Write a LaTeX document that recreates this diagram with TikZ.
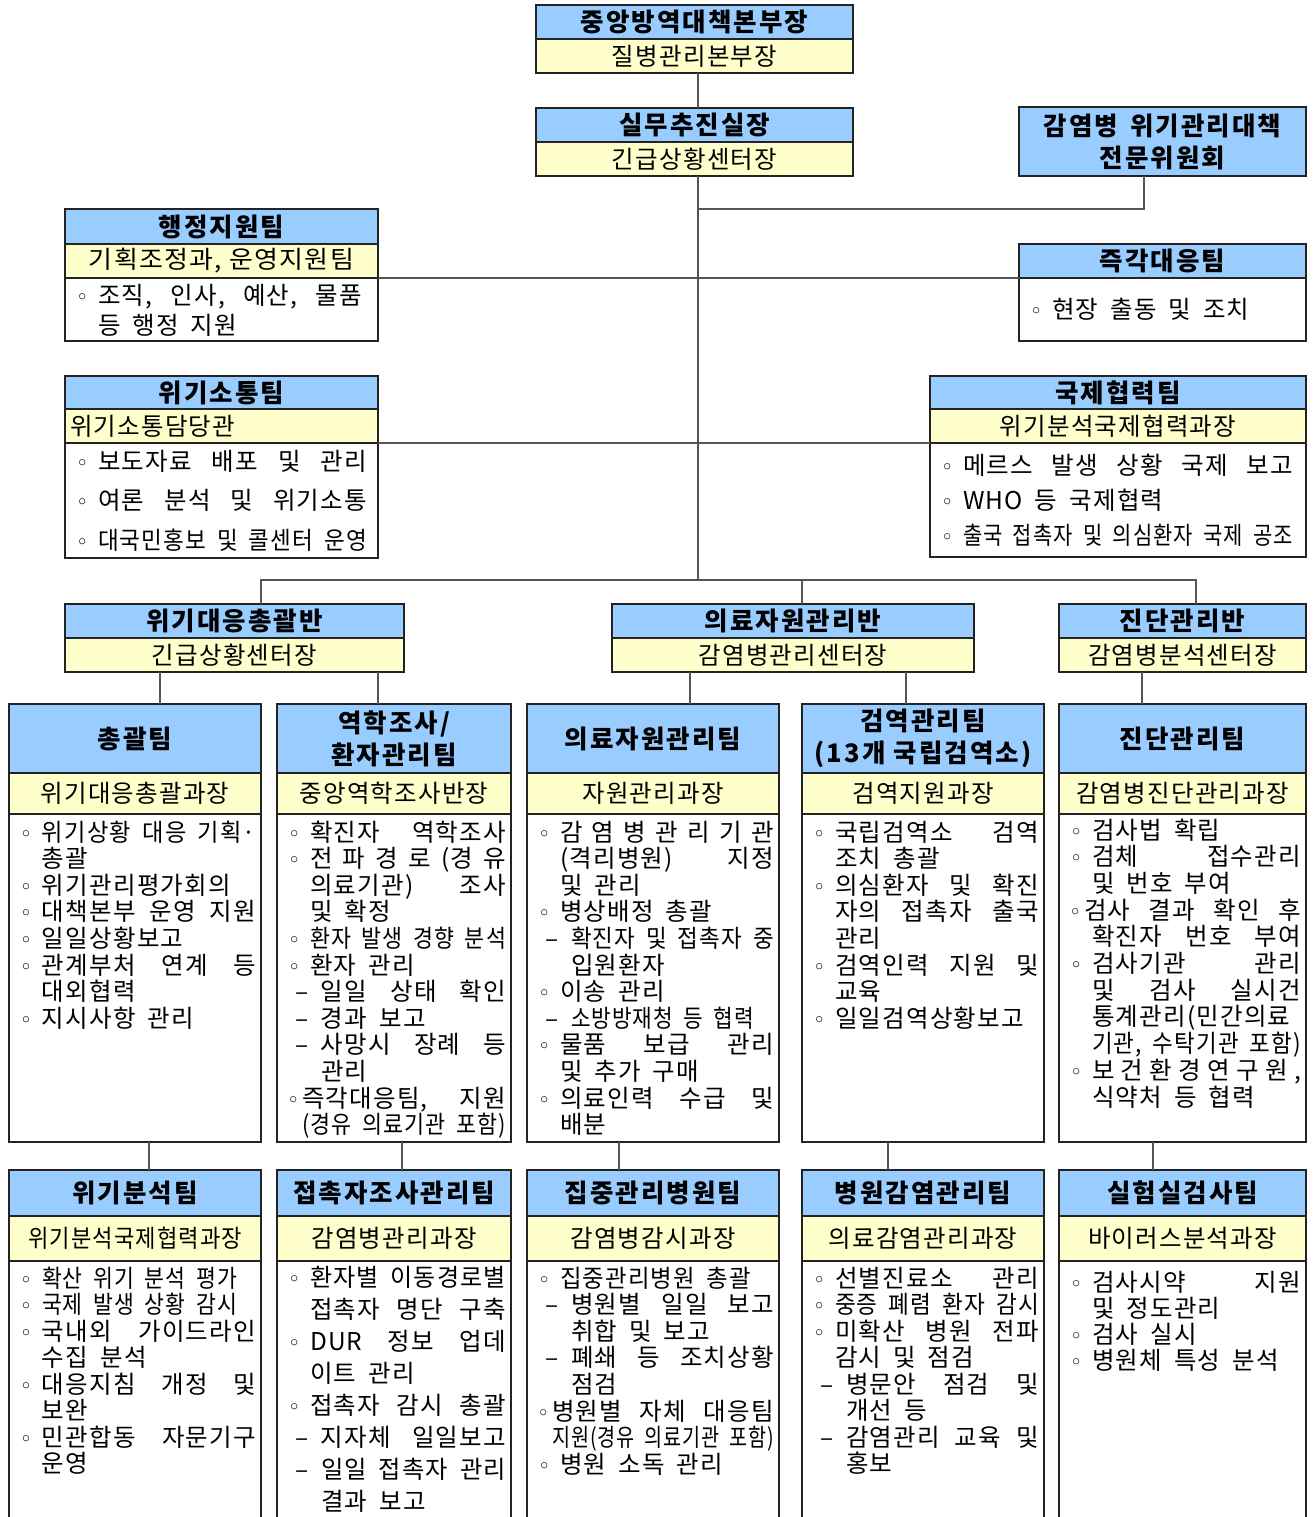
\documentclass[tikz,border=0pt]{standalone}
\usepackage{fontspec}
\usepackage{graphicx}
\usetikzlibrary{positioning}
\setmainfont{Noto Sans CJK KR}[LetterSpace=5]
\newfontfamily\hdfam{Noto Sans CJK KR}[LetterSpace=8]
\newfontfamily\bulf{DejaVu Sans}
\definecolor{hdblue}{RGB}{153,204,255}
\definecolor{sbyel}{RGB}{255,255,204}
\definecolor{edge}{RGB}{35,35,35}
\definecolor{wire}{RGB}{85,85,85}
\newlength\tw
\newcommand\hdf{\hdfam\fontsize{25.5}{32}\selectfont\bfseries}
\newcommand\sbf{\fontsize{24.5}{28}\selectfont}
% justified line, squeezed when too long
\newcommand\fitj[2]{\sbox0{#2}\ifdim\wd0>#1\relax\resizebox{#1}{\height}{#2}\else\makebox[#1][s]{#2}\fi}
\newcommand\bul{\makebox[24pt][l]{\hspace{2pt}{\bulf\fontsize{21}{21}\selectfont ◦}}}
\newcommand\tbul{\makebox[16pt][l]{\hspace{1pt}{\bulf\fontsize{21}{21}\selectfont ◦}}}
\newcommand\dsh{\makebox[35pt][l]{\hspace{9pt}–}}
\newcommand\ibj[1]{\noindent\bul\fitj{\dimexpr\tw-24pt\relax}{#1}\par}
\newcommand\ibn[1]{\noindent\bul#1\par}
\newcommand\ibw[2]{\noindent\bul\resizebox{#1pt}{\height}{#2}\par}
\newcommand\icj[1]{\noindent\hspace*{24pt}\fitj{\dimexpr\tw-24pt\relax}{#1}\par}
\newcommand\icn[1]{\noindent\hspace*{24pt}#1\par}
\newcommand\idj[1]{\noindent\dsh\fitj{\dimexpr\tw-35pt\relax}{#1}\par}
\newcommand\idn[1]{\noindent\dsh#1\par}
\newcommand\idw[2]{\noindent\dsh\resizebox{#1pt}{\height}{#2}\par}
\newcommand\iec[1]{\noindent\hspace*{35pt}#1\par}
\newcommand\itj[1]{\noindent\tbul\fitj{\dimexpr\tw-16pt\relax}{#1}\par}
\newcommand\itc[1]{\noindent\hspace*{16pt}\fitj{\dimexpr\tw-16pt\relax}{#1}\par}
% #1 width, #2 height, #3 line skip, #4 first baseline, #5 right margin, #6 lines
\newcommand\bodytxt[6]{\parbox[c][#2pt][t]{#1pt}{\fontsize{24.5}{#3}\selectfont
  \setlength\tw{\dimexpr#1pt-9pt-#5pt\relax}\leftskip=9pt\rightskip=0pt plus 1fil
  \parskip=0pt\parindent=0pt\spaceskip=12pt plus 40pt minus 7pt\xspaceskip=\spaceskip
  \vspace*{\dimexpr#4pt-#3pt\relax}\mbox{}\par #6}}

\begin{document}
\begin{tikzpicture}
[x=1pt,y=-1pt,
 every node/.style={inner sep=0pt,outer sep=0pt},
 hd/.style={draw=edge,line width=1.2pt,fill=hdblue,font=\hdf,align=center},
 sb/.style={draw=edge,line width=1.2pt,fill=sbyel,font=\sbf,align=center},
 bd/.style={draw=edge,line width=1.2pt,fill=white},
 conn/.style={draw=wire,line width=1.3pt}]
\path[use as bounding box,fill=white] (0,0) rectangle (1313,1517);

% headquarters
\node[hd,minimum width=317,minimum height=34] (hq) at (694.5,22) {중앙방역대책본부장};
\node[sb,minimum width=317,minimum height=34,below=0pt of hq] (hqs) {질병관리본부장};
\node[hd,minimum width=317,minimum height=34] (cmd) at (694.5,125) {실무추진실장};
\node[sb,minimum width=317,minimum height=34,below=0pt of cmd] (cmds) {긴급상황센터장};
\node[hd,minimum width=287,minimum height=69] (cmt) at (1162.5,141.5) {감염병\hspace{12pt}위기관리대책\\전문위원회};

% side teams
\node[hd,minimum width=313,minimum height=35] (adm) at (221.5,226.5) {행정지원팀};
\node[sb,minimum width=313,minimum height=34,below=0pt of adm] (adms) {\resizebox{265pt}{\height}{기획조정과, 운영지원팀}};
\node[bd,below=0pt of adms] (admb) {\bodytxt{313}{63}{30}{26}{16}{%
  \ibj{조직, 인사, 예산, 물품}
  \icn{등 행정 지원}}};
\node[hd,minimum width=287,minimum height=34] (rapid) at (1162.5,261) {즉각대응팀};
\node[bd,below=0pt of rapid] (rapidb) {\bodytxt{287}{63}{30}{40}{10}{%
  \ibn{현장 출동 및 조치}}};
\node[hd,minimum width=313,minimum height=33] (com) at (221.5,392.5) {위기소통팀};
\node[sb,minimum width=313,minimum height=34,below=0pt of com] (coms) {\makebox[303pt][l]{위기소통담당관}};
\node[bd,below=0pt of coms] (comb) {\bodytxt{313}{115}{39.5}{27}{11}{%
  \ibj{보도자료 배포 및 관리}
  \ibj{여론 분석 및 위기소통}
  \ibj{대국민홍보 및 콜센터 운영}}};
\node[hd,minimum width=376,minimum height=33] (intl) at (1118,392.5) {국제협력팀};
\node[sb,minimum width=376,minimum height=34,below=0pt of intl] (intls) {위기분석국제협력과장};
\node[bd,below=0pt of intls] (intlb) {\bodytxt{376}{114}{35}{31}{13}{%
  \ibj{메르스 발생 상황 국제 보고}
  \ibn{WHO 등 국제협력}
  \ibj{출국 접촉자 및 의심환자 국제 공조}}};

% divisions
\node[hd,minimum width=339,minimum height=34] (g1) at (234.5,621) {위기대응총괄반};
\node[sb,minimum width=339,minimum height=34,below=0pt of g1] (g1s) {긴급상황센터장};
\node[hd,minimum width=362,minimum height=34] (g2) at (793,621) {의료자원관리반};
\node[sb,minimum width=362,minimum height=34,below=0pt of g2] (g2s) {감염병관리센터장};
\node[hd,minimum width=247,minimum height=34] (g3) at (1182.5,621) {진단관리반};
\node[sb,minimum width=247,minimum height=34,below=0pt of g3] (g3s) {감염병분석센터장};

% teams, upper row
\node[hd,minimum width=252,minimum height=69] (t1) at (135,738.5) {총괄팀};
\node[sb,minimum width=252,minimum height=41,below=0pt of t1] (t1s) {위기대응총괄과장};
\node[bd,below=0pt of t1s] (t1b) {\bodytxt{252}{328}{26.6}{27}{5}{%
  \ibj{위기상황 대응 기획·}
  \icn{총괄}
  \ibj{위기관리평가회의}
  \ibj{대책본부 운영 지원}
  \ibn{일일상황보고}
  \ibj{관계부처 연계 등}
  \icn{대외협력}
  \ibn{지시사항 관리}}};
\node[hd,minimum width=234,minimum height=69] (t2) at (394,738.5) {역학조사/\\환자관리팀};
\node[sb,minimum width=234,minimum height=41,below=0pt of t2] (t2s) {중앙역학조사반장};
\node[bd,below=0pt of t2s] (t2b) {\bodytxt{234}{328}{26.6}{27}{5}{%
  \ibj{확진자 역학조사}
  \ibj{전\hfill 파\hfill 경\hfill 로\hfill (경\hfill 유}
  \icj{의료기관) 조사}
  \icn{및 확정}
  \ibj{환자 발생 경향 분석}
  \ibn{환자 관리}
  \idj{일일 상태 확인}
  \idn{경과 보고}
  \idj{사망시 장례 등}
  \iec{관리}
  \itj{즉각대응팀, 지원}
  \itc{(경유 의료기관 포함)}}};
\node[hd,minimum width=252,minimum height=69] (t3) at (653,738.5) {의료자원관리팀};
\node[sb,minimum width=252,minimum height=41,below=0pt of t3] (t3s) {자원관리과장};
\node[bd,below=0pt of t3s] (t3b) {\bodytxt{252}{328}{26.6}{27}{5}{%
  \ibj{감\hfill 염\hfill 병\hfill 관\hfill 리\hfill 기\hfill 관}
  \icj{(격리병원)\hfill 지정}
  \icn{및 관리}
  \ibn{병상배정 총괄}
  \idj{확진자 및 접촉자 중}
  \iec{입원환자}
  \ibn{이송 관리}
  \idw{183}{소방방재청 등 협력}
  \ibj{물품 보급 관리}
  \icn{및 추가 구매}
  \ibj{의료인력 수급 및}
  \icn{배분}}};
\node[hd,minimum width=242,minimum height=69] (t4) at (923,738.5) {검역관리팀\\(13개\hspace{8pt}국립검역소)};
\node[sb,minimum width=242,minimum height=41,below=0pt of t4] (t4s) {검역지원과장};
\node[bd,below=0pt of t4s] (t4b) {\bodytxt{242}{328}{26.6}{27}{5}{%
  \ibj{국립검역소 검역}
  \icn{조치 총괄}
  \ibj{의심환자 및 확진}
  \icj{자의 접촉자 출국}
  \icn{관리}
  \ibj{검역인력 지원 및}
  \icn{교육}
  \ibj{일일검역상황보고}}};
\node[hd,minimum width=247,minimum height=69] (t5) at (1182.5,738.5) {진단관리팀};
\node[sb,minimum width=247,minimum height=41,below=0pt of t5] (t5s) {감염병진단관리과장};
\node[bd,below=0pt of t5s] (t5b) {\bodytxt{247}{328}{26.7}{25}{5}{%
  \ibn{검사법 확립}
  \ibj{검체 접수관리}
  \icn{및 번호 부여}
  \itj{검사 결과 확인 후}
  \icj{확진자 번호 부여}
  \ibj{검사기관 관리}
  \icj{및 검사 실시건}
  \icj{통계관리(민간의료}
  \icj{기관, 수탁기관 포함)}
  \ibj{보\hfill 건\hfill 환\hfill 경\hfill 연\hfill 구\hfill 원\hfill ,}
  \icn{식약처 등 협력}}};

% teams, lower row
\node[hd,minimum width=252,minimum height=46] (u1) at (135,1193) {위기분석팀};
\node[sb,minimum width=252,minimum height=45,below=0pt of u1] (u1s) {\resizebox{214pt}{\height}{위기분석국제협력과장}};
\node[bd,below=0pt of u1s] (u1b) {\bodytxt{252}{270}{26.5}{26}{5}{%
  \ibw{195}{확산 위기 분석 평가}
  \ibw{195}{국제 발생 상황 감시}
  \ibj{국내외 가이드라인}
  \icn{수집 분석}
  \ibj{대응지침 개정 및}
  \icn{보완}
  \ibj{민관합동 자문기구}
  \icn{운영}}};
\node[hd,minimum width=234,minimum height=46] (u2) at (394,1193) {접촉자조사관리팀};
\node[sb,minimum width=234,minimum height=45,below=0pt of u2] (u2s) {감염병관리과장};
\node[bd,below=0pt of u2s] (u2b) {\bodytxt{234}{270}{32}{25}{5}{%
  \ibj{환자별 이동경로별}
  \icj{접촉자 명단 구축}
  \ibj{DUR 정보 업데}
  \icn{이트 관리}
  \ibj{접촉자 감시 총괄}
  \idj{지자체 일일보고}
  \idj{일일 접촉자 관리}
  \iec{결과 보고}}};
\node[hd,minimum width=252,minimum height=46] (u3) at (653,1193) {집중관리병원팀};
\node[sb,minimum width=252,minimum height=45,below=0pt of u3] (u3s) {감염병감시과장};
\node[bd,below=0pt of u3s] (u3b) {\bodytxt{252}{270}{26.6}{26}{5}{%
  \ibw{191}{집중관리병원 총괄}
  \idj{병원별 일일 보고}
  \iec{취합 및 보고}
  \idj{폐쇄 등 조치상황}
  \iec{점검}
  \itj{병원별 자체 대응팀}
  \itc{지원(경유 의료기관 포함)}
  \ibn{병원 소독 관리}}};
\node[hd,minimum width=242,minimum height=46] (u4) at (923,1193) {병원감염관리팀};
\node[sb,minimum width=242,minimum height=45,below=0pt of u4] (u4s) {의료감염관리과장};
\node[bd,below=0pt of u4s] (u4b) {\bodytxt{242}{270}{26.5}{26}{5}{%
  \ibj{선별진료소 관리}
  \ibj{중증 폐렴 환자 감시}
  \ibj{미확산 병원 전파}
  \icn{감시 및 점검}
  \idj{병문안 점검 및}
  \iec{개선 등}
  \idj{감염관리 교육 및}
  \iec{홍보}}};
\node[hd,minimum width=247,minimum height=46] (u5) at (1182.5,1193) {실험실검사팀};
\node[sb,minimum width=247,minimum height=45,below=0pt of u5] (u5s) {바이러스분석과장};
\node[bd,below=0pt of u5s] (u5b) {\bodytxt{247}{270}{26.2}{30}{5}{%
  \ibj{검사시약 지원}
  \icn{및 정도관리}
  \ibn{검사 실시}
  \ibn{병원체 특성 분석}}};

% connectors
\coordinate (spine) at (698,580);
\coordinate (busl) at (261,580);
\coordinate (busm) at (802,580);
\coordinate (busr) at (1196,580);
\coordinate (cmtj) at (1144,209);
\foreach \n/\x in {a/160,b/378,c/690,d/906,e/1142,f/149,g/402,h/619,i/888,j/1153}
  \coordinate (x\n) at (\x,0);
\draw[conn] (hqs.south -| spine) -- (cmd.north -| spine);
\draw[conn] (cmds.south -| spine) -- (spine);
\draw[conn] (cmt.south -| cmtj) -- (cmtj) -- (cmtj -| spine);
\draw[conn] (adms.south east) -- (rapid.south west);
\draw[conn] (coms.south east) -- (intls.south west);
\draw[conn] (g1.north -| busl) -- (busl) -- (busr) -- (g3.north -| busr);
\draw[conn] (busm) -- (g2.north -| busm);
\foreach \a/\b/\n in {g1s/t1/a,g1s/t2/b,g2s/t3/c,g2s/t4/d,g3s/t5/e,t1b/u1/f,t2b/u2/g,t3b/u3/h,t4b/u4/i,t5b/u5/j}
  \draw[conn] (\a.south -| x\n) -- (\b.north -| x\n);
\end{tikzpicture}
\end{document}
